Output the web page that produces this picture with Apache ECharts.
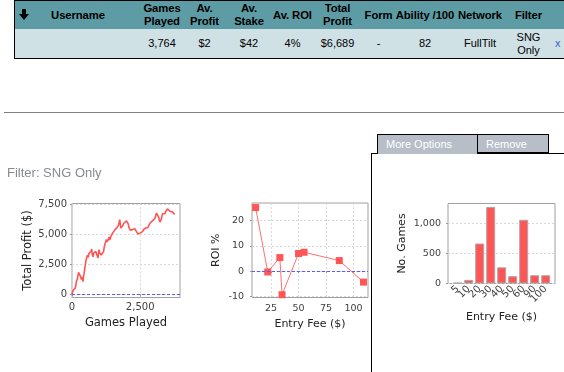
<!DOCTYPE html>
<html><head><meta charset="utf-8">
<script src="https://cdn.jsdelivr.net/npm/echarts@6/dist/echarts.min.js"></script>
<style>
html,body{margin:0;padding:0;background:#fff;}
#page{position:relative;width:564px;height:372px;overflow:hidden;font-family:"Liberation Sans",Arial,sans-serif;}
#chart{position:absolute;left:0;top:0;width:564px;height:372px;}
.cell{position:absolute;box-sizing:border-box;display:flex;align-items:center;justify-content:center;text-align:center;border-right:1px solid #000;line-height:13px;color:#000;white-space:pre;}
.hd{background:#5e9ca5;font-weight:bold;font-size:11.3px;border-top:1px solid #000;border-bottom:1px solid #000;letter-spacing:-0.1px;}
.dt{background:#cfe1e5;font-size:11px;border-bottom:1px solid #000;}
#filter{position:absolute;left:7px;top:165px;font-size:13px;color:#868b91;}
#rule{position:absolute;left:4px;top:112px;width:560px;height:0;border-top:1px solid #808080;}
.tab{position:absolute;top:134px;height:19px;box-sizing:border-box;background:#b8bec8;color:#fff;font-size:11px;line-height:18px;padding-left:8px;border:1px solid #000;}
#panelTop{position:absolute;left:371px;top:153px;width:193px;border-top:1px solid #000;}
#panelLeft{position:absolute;left:371px;top:153px;height:219px;border-left:1px solid #000;}
</style></head>
<body><div id="page">
<div id="chart"></div>
<div id="table"></div>
<div id="rule"></div>
<div id="filter">Filter: SNG Only</div>
<div id="panelTop"></div>
<div id="panelLeft"></div>
<div class="tab" style="left:377px;width:101px;border-bottom:none;height:20px;">More Options</div>
<div class="tab" style="left:477px;width:72px;">Remove</div>
</div>
<script>
// ---------- table data ----------
const tableHeaders = ['Username','Games\nPlayed','Av.\nProfit','Av.\nStake','Av. ROI','Total\nProfit','Form','Ability /100','Network','Filter',''];
const tableRow = ['','3,764','$2','$42','4%','$6,689','-','82','FullTilt','SNG\nOnly','x'];

// ---------- chart data ----------
const gamesPlayed = [0,20,40,60,80,100,120,140,160,180,200,220,240,260,283,300,320,340,356,370,385,405,420,440,455,470,490,510,528,545,565,580,600,615,630,650,670,690,710,725,740,760,775,795,815,835,855,875,895,915,935,955,970,990,1010,1025,1040,1060,1075,1090,1110,1125,1140,1160,1180,1200,1225,1245,1265,1285,1310,1335,1360,1385,1410,1435,1460,1485,1510,1530,1545,1570,1595,1615,1630,1655,1680,1705,1730,1750,1770,1790,1815,1840,1860,1875,1900,1935,1965,2000,2030,2060,2090,2120,2150,2180,2210,2240,2270,2300,2330,2365,2395,2425,2460,2485,2510,2545,2585,2610,2635,2670,2710,2735,2760,2785,2810,2835,2855,2885,2915,2945,2980,3010,3040,3070,3100,3130,3160,3180,3200,3225,3250,3275,3295,3320,3345,3375,3410,3440,3470,3500,3530,3560,3590,3620,3650,3680,3710,3740,3764];
const totalProfit = [0,150,350,300,450,400,550,750,1100,1000,1300,1600,1850,1700,1980,1700,1480,1250,1140,1450,1300,1080,1500,1700,1950,2250,2450,2800,3000,2850,3290,3150,3090,3400,3250,3550,3400,3600,3450,3800,3350,3500,3150,3450,3300,3500,3350,3600,3500,3300,3450,3050,3400,3750,3500,3600,3400,3500,3300,3400,3200,3350,3150,3600,3950,3800,4350,4200,4600,4400,4300,4600,4800,4550,4600,4900,4950,5100,5200,5050,5100,5400,5500,5350,5400,5600,5650,5800,5950,6250,5900,5550,5650,5550,5750,5800,5950,6100,6000,6150,6000,5900,5600,5400,5500,5550,5400,5350,5500,5500,5350,5250,5150,5050,4950,5100,5150,5200,5250,5400,5450,5450,5550,5500,5650,5600,5450,5750,5950,6000,6100,6150,6250,6300,6350,6600,6800,6700,6650,6450,6250,6050,5900,6300,6500,6750,6900,6850,6750,6950,7050,7150,7280,7100,6950,7000,7050,6900,6800,6850,6689];
const profitTicks = [0,2500,5000,7500];
const gamesTicks = [0,2500];

const roiEntryFee = [11,22,33,35,50,55,87,109];
const roiPercent = [25.2,-0.3,5.4,-9.3,7.0,7.5,4.2,-4.3];
const roiTicks = [-10,0,10,20];
const feeTicks = [25,50,75,100];

const feeCategories = ['5','10','20','30','40','50','60','90','100'];
const gamesPerFee = [12,60,667,1278,270,122,1064,138,138];
const countTicks = [0,500,1000];

// ---------- table ----------
const colEdges = [14,141,183,226,272,313,362,395,455,505,552,580];
const tbl = document.getElementById('table');
function addCell(cls, text, i, top, h){
  const d = document.createElement('div');
  d.className = 'cell ' + cls;
  d.style.left = colEdges[i] + 'px';
  d.style.top = top + 'px';
  d.style.width = (colEdges[i+1]-colEdges[i]+1) + 'px';
  d.style.height = h + 'px';
  if (i === 0) d.style.borderLeft = '1px solid #000';
  d.textContent = text;
  tbl.appendChild(d);
  return d;
}
tableHeaders.forEach((t,i)=>{
  const d = addCell('hd', t, i, 0, 30);
  if (i === 0) {
    const s = document.createElementNS('http://www.w3.org/2000/svg','svg');
    s.setAttribute('width','10');s.setAttribute('height','11');
    s.style.position='absolute';s.style.left='4px';s.style.top='8px';
    s.innerHTML='<rect x="3" y="0" width="4" height="5" fill="#000"/><polygon points="0,5 10,5 5,11" fill="#000"/>';
    d.appendChild(s);
  }
});
tableRow.forEach((t,i)=>{
  const d = addCell('dt', t, i, 29, 30);
  if (i === tableRow.length-1) { d.style.color='#3366cc'; d.style.justifyContent='flex-start'; d.style.paddingLeft='3px'; }
});

// ---------- charts ----------
const fmt = v => String(v).replace(/\B(?=(\d{3})+(?!\d))/g, ',');
const FONT = 'DejaVu Sans';
const gridStyle = {show:true, borderColor:'#a0a0a0', borderWidth:1, backgroundColor:'#fff'};
const split = {show:true, lineStyle:{color:'#d8d8d8', type:[2,2], width:1}};
const tick = (vals)=>({show:true, customValues:vals, length:2, lineStyle:{color:'#999'}});
const nameStyle = (fs)=>({fontFamily:FONT, fontSize:fs, color:'#222'});
const lbl = (vals, fs, margin, extra)=>Object.assign({customValues:vals, fontFamily:FONT, fontSize:fs, color:'#404040',
  margin:margin, hideOverlap:false, showMinLabel:true, showMaxLabel:true}, extra||{});
const zeroLine = {silent:true, symbol:'none', label:{show:false}, data:[{yAxis:0}],
  lineStyle:{color:'#5a5aff', type:[3,2], width:1}};
const countMax = 1335;

const chart = echarts.init(document.getElementById('chart'), null, {renderer:'canvas'});
chart.setOption({
  animation:false,
  grid:[
    Object.assign({left:72, top:203.5, width:108, height:94}, gridStyle),
    Object.assign({left:252, top:203, width:116, height:94.5}, gridStyle),
    Object.assign({left:448, top:203.5, width:107, height:80}, gridStyle),
    {left:452.2, top:203.5, width:99, height:80, show:false}
  ],
  xAxis:[
    {type:'value', gridIndex:0, min:0, max:3960, axisLine:{show:false},
     axisTick:tick(gamesTicks), axisLabel:lbl(gamesTicks, 10, 5, {formatter:fmt}),
     splitLine:split, name:'Games Played', nameLocation:'middle', nameGap:20, nameTextStyle:nameStyle(11.5)},
    {type:'value', gridIndex:1, min:7.7, max:113.1, axisLine:{show:false},
     axisTick:tick(feeTicks), axisLabel:lbl(feeTicks, 9.5, 6),
     splitLine:split, name:'Entry Fee ($)', nameLocation:'middle', nameGap:21, nameTextStyle:nameStyle(11)},
    {type:'value', gridIndex:2, min:0, max:1, show:true, axisLine:{show:false}, axisTick:{show:false},
     axisLabel:{show:false}, splitLine:{show:false},
     name:'Entry Fee ($)', nameLocation:'middle', nameGap:28, nameTextStyle:nameStyle(11)},
    {type:'category', gridIndex:3, data:feeCategories, boundaryGap:true, axisLine:{show:false},
     axisTick:{show:false},
     axisLabel:{interval:0, rotate:45, fontFamily:FONT, fontSize:10, color:'#404040', margin:4, hideOverlap:false},
     splitLine:{show:false}}
  ],
  yAxis:[
    {type:'value', gridIndex:0, min:-250, max:7600, axisLine:{show:false},
     axisTick:tick(profitTicks), axisLabel:lbl(profitTicks, 10, 5, {formatter:fmt}),
     splitLine:split, name:'Total Profit ($)', nameLocation:'middle', nameGap:37, nameTextStyle:nameStyle(11.5)},
    {type:'value', gridIndex:1, min:-10.4, max:27, axisLine:{show:false},
     axisTick:tick(roiTicks), axisLabel:lbl(roiTicks, 9.5, 8),
     splitLine:split, name:'ROI %', nameLocation:'middle', nameGap:30, nameTextStyle:nameStyle(11)},
    {type:'value', gridIndex:2, min:0, max:countMax, axisLine:{show:false},
     axisTick:tick(countTicks), axisLabel:lbl(countTicks, 9.5, 7, {formatter:fmt}),
     splitLine:split, name:'No. Games', nameLocation:'middle', nameGap:40, nameTextStyle:nameStyle(11)},
    {type:'value', gridIndex:3, min:0, max:countMax, show:false, splitLine:{show:false}}
  ],
  series:[
    {type:'line', xAxisIndex:0, yAxisIndex:0, showSymbol:false, symbol:'none',
     data:gamesPlayed.map((g,i)=>[g,totalProfit[i]]),
     lineStyle:{color:'#ff5555', width:1.6}, markLine:zeroLine, z:3},
    {type:'line', xAxisIndex:1, yAxisIndex:1, symbol:'rect', symbolSize:7,
     data:roiEntryFee.map((f,i)=>[f,roiPercent[i]]),
     itemStyle:{color:'#ff5555'}, lineStyle:{color:'#ff7070', width:1}, markLine:zeroLine, z:3},
    {type:'bar', xAxisIndex:3, yAxisIndex:3, barWidth:9,
     data:gamesPerFee,
     itemStyle:{color:'#ff5555', borderColor:'#a8a8a8', borderWidth:1}, z:3}
  ]
});
</script>
</body></html>
